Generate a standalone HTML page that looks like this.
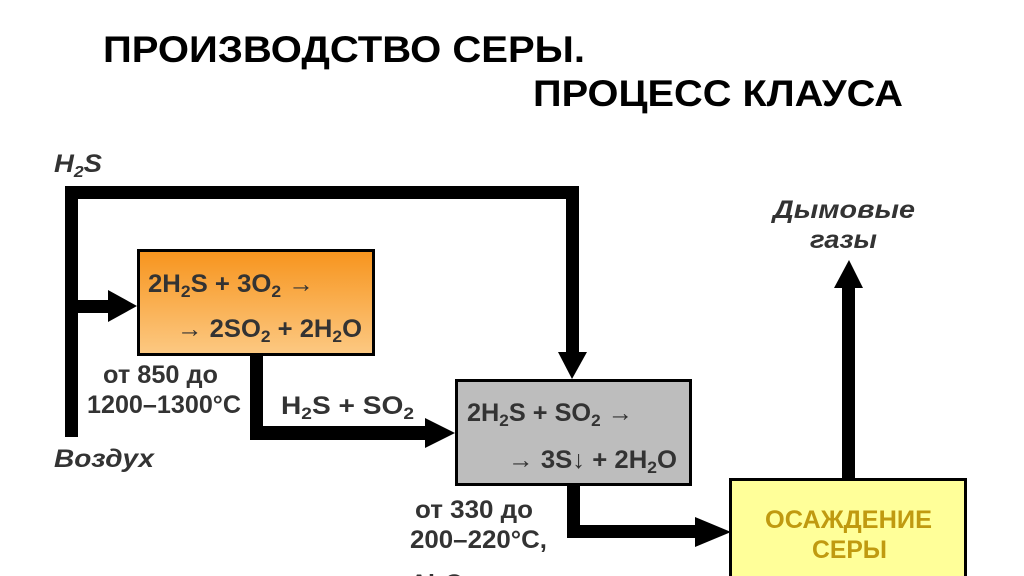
<!DOCTYPE html>
<html><head><meta charset="utf-8"><style>
html,body{margin:0;padding:0;background:#fff;}
svg{display:block;}
text{font-family:"Liberation Sans",Arial,sans-serif;font-weight:bold;fill:#333;}
</style></head><body>
<svg width="1024" height="576" viewBox="0 0 1024 576">
<defs>
<linearGradient id="og" x1="0" y1="0" x2="0" y2="1">
<stop offset="0" stop-color="#f7941d"/><stop offset="1" stop-color="#fcc983"/>
</linearGradient>
</defs>
<text x="103" y="62" font-size="37" textLength="482" lengthAdjust="spacingAndGlyphs" style="fill:#000">ПРОИЗВОДСТВО СЕРЫ.</text>
<text x="533" y="106" font-size="37" textLength="370" lengthAdjust="spacingAndGlyphs" style="fill:#000">ПРОЦЕСС КЛАУСА</text>

<text x="54" y="172" font-size="25" font-style="italic" textLength="48" lengthAdjust="spacingAndGlyphs">H<tspan font-size="16" dy="5">2</tspan><tspan dy="-5">S</tspan></text>
<text x="54" y="467" font-size="25" font-style="italic" textLength="100" lengthAdjust="spacingAndGlyphs">Воздух</text>

<g fill="#000">
<rect x="65" y="186" width="13" height="251"/>
<rect x="65" y="186" width="514" height="13"/>
<rect x="566" y="186" width="13" height="168"/>
<polygon points="558,352 587,352 572,379"/>
<rect x="65" y="300" width="45" height="13"/>
<polygon points="108,290 108,322 137,306"/>
<rect x="250" y="355" width="13" height="85"/>
<rect x="250" y="426" width="177" height="14"/>
<polygon points="425,418 425,448 455,433"/>
<rect x="567" y="484" width="13" height="54"/>
<rect x="567" y="525" width="130" height="13"/>
<polygon points="695,517 695,547 731,532"/>
<rect x="842" y="285" width="13" height="194"/>
<polygon points="834,288 863,288 849,260"/>
</g>

<rect x="138.5" y="250.5" width="235" height="104" fill="url(#og)" stroke="#000" stroke-width="3"/>
<rect x="456.5" y="380.5" width="234" height="104" fill="#bdbdbd" stroke="#000" stroke-width="3"/>
<rect x="730.5" y="479.5" width="235" height="110" fill="#ffff99" stroke="#000" stroke-width="3"/>

<g font-size="25">
<text x="148" y="292" textLength="166" lengthAdjust="spacingAndGlyphs">2H<tspan font-size="17" dy="5">2</tspan><tspan dy="-5">S + 3O</tspan><tspan font-size="17" dy="5">2</tspan><tspan dy="-5" font-weight="normal"> →</tspan></text>
<text x="177" y="337" textLength="185" lengthAdjust="spacingAndGlyphs"><tspan font-weight="normal">→ </tspan>2SO<tspan font-size="17" dy="5">2</tspan><tspan dy="-5"> + 2H</tspan><tspan font-size="17" dy="5">2</tspan><tspan dy="-5">O</tspan></text>
<text x="103" y="383" textLength="115" lengthAdjust="spacingAndGlyphs">от 850 до</text>
<text x="87" y="413" textLength="154" lengthAdjust="spacingAndGlyphs">1200–1300°C</text>
<text x="281" y="414" textLength="133" lengthAdjust="spacingAndGlyphs">H<tspan font-size="17" dy="5">2</tspan><tspan dy="-5">S + SO</tspan><tspan font-size="17" dy="5">2</tspan></text>
<text x="467" y="421" textLength="166" lengthAdjust="spacingAndGlyphs">2H<tspan font-size="17" dy="5">2</tspan><tspan dy="-5">S + SO</tspan><tspan font-size="17" dy="5">2</tspan><tspan dy="-5" font-weight="normal"> →</tspan></text>
<text x="508" y="468" textLength="169" lengthAdjust="spacingAndGlyphs"><tspan font-weight="normal">→ </tspan>3S<tspan font-weight="normal">↓</tspan> + 2H<tspan font-size="17" dy="5">2</tspan><tspan dy="-5">O</tspan></text>
<text x="415" y="518" textLength="118" lengthAdjust="spacingAndGlyphs">от 330 до</text>
<text x="410" y="548" textLength="137" lengthAdjust="spacingAndGlyphs">200–220°C,</text>
<text x="410" y="592">Al<tspan font-size="17" dy="5">2</tspan><tspan dy="-5">O</tspan><tspan font-size="17" dy="5">3</tspan></text>
<text x="773" y="218" font-style="italic" textLength="142" lengthAdjust="spacingAndGlyphs">Дымовые</text>
<text x="810" y="248" font-style="italic" textLength="67" lengthAdjust="spacingAndGlyphs">газы</text>
<text x="765" y="528" textLength="167" lengthAdjust="spacingAndGlyphs" style="fill:#c09a10">ОСАЖДЕНИЕ</text>
<text x="812" y="558" textLength="75" lengthAdjust="spacingAndGlyphs" style="fill:#c09a10">СЕРЫ</text>
</g>
</svg>
</body></html>
